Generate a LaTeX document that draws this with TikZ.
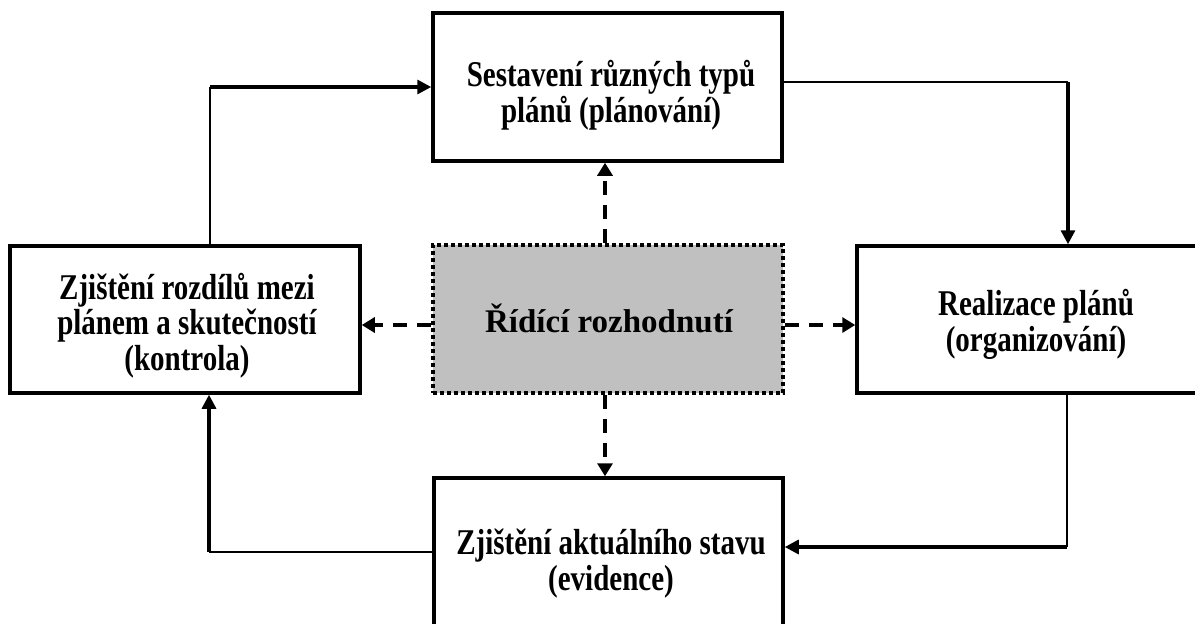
\documentclass[tikz,border=0pt]{standalone}
\usepackage{fontspec}
\setmainfont{Liberation Serif}
\usetikzlibrary{arrows.meta}
\begin{document}
\begin{tikzpicture}[x=1pt,y=-1pt,
  box/.style={draw,line width=3.5pt,inner sep=0pt},
  txt/.style={inner sep=0pt,align=center,anchor=base,yscale=1.25,transform shape,
    font=\fontsize{29}{28.4}\selectfont\bfseries},
  cbox/.style={draw,fill={rgb,255:red,192;green,192;blue,192},line width=4pt,
    dash pattern=on 4pt off 3pt,inner sep=0pt},
  ctxt/.style={inner sep=0pt,anchor=base,font=\fontsize{33}{38}\selectfont\bfseries},
  thickln/.style={line width=3.2pt},
  thinln/.style={line width=1.8pt},
  tip/.style={-{Triangle[length=14pt,width=14pt]}},
  dashln/.style={line width=3.5pt,dash pattern=on 14pt off 10pt,
    -{Triangle[length=13pt,width=15pt]}}]
\useasboundingbox (0,0) rectangle (1195,624);
\fill[white] (0,0) rectangle (1195,624);
% boxes
\node[box,minimum width=349pt,minimum height=148pt] (plan) at (607.5,87) {};
\node[box,minimum width=350pt,minimum height=147pt] (kontr) at (185,319.5) {};
\node[cbox,minimum width=350pt,minimum height=148pt] (rid) at (608,319) {};
\node[box,minimum width=350pt,minimum height=147pt] (real) at (1032,319.5) {};
\node[box,minimum width=349pt,minimum height=164pt] (evid) at (608.5,560) {};
% texts (anchored at the baseline of the last line)
\node[txt] (plant) at (611,122) {Sestavení různých typů\\plánů (plánování)};
\node[txt] (kontrt) at (187,370) {Zjištění rozdílů mezi\\plánem a skutečností\\(kontrola)};
\node[ctxt] (ridt) at (609,332) {Řídící rozhodnutí};
\node[txt] (realt) at (1036,351) {Realizace plánů\\(organizování)};
\node[txt] (evidt) at (611,590) {Zjištění aktuálního stavu\\(evidence)};
% coordinates for loop corners
\coordinate (tl) at (210,87);
\coordinate (tr) at (1068,82);
\coordinate (br) at (1067,547);
\coordinate (bl) at (209,552);
% outer loop
\draw[thinln] (kontr.north -| tl) -- (tl);
\draw[thickln,tip] (tl) -- (tl -| plan.west);
\draw[thinln] (plan.east |- tr) -- (tr);
\draw[thickln,tip] (tr) -- (tr |- real.north);
\draw[thinln] (real.south -| br) -- (br);
\draw[thickln,tip] (br) -- (br -| evid.east);
\draw[thinln] (evid.west |- bl) -- (bl);
\draw[thickln,tip] (bl) -- (bl |- kontr.south);
% dashed arrows from decision
\draw[dashln] (rid.north -| 605,0) -- (plan.south -| 605,0);
\draw[dashln] (rid.south -| 605,0) -- (evid.north -| 605,0);
\draw[dashln] (rid.west |- 0,325) -- (kontr.east |- 0,325);
\draw[dashln] (rid.east |- 0,325) -- (real.west |- 0,325);
\end{tikzpicture}
\end{document}
